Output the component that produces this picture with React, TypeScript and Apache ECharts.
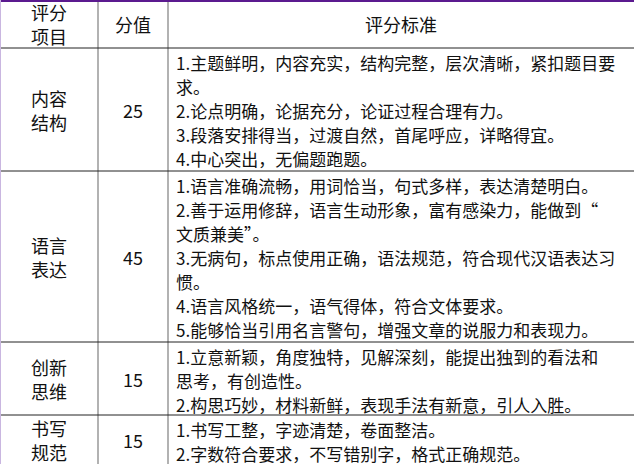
import * as echarts from 'echarts';
import React, { useEffect, useRef } from 'react';

// 表头
const headers = ['评分\n项目', '分值', '评分标准'];
// 各行：项目、分值、标准（已按显示折行）
const items = ['内容\n结构', '语言\n表达', '创新\n思维', '书写\n规范'];
const scores = ['25', '45', '15', '15'];
const criteria: string[][] = [
  [
    '1.主题鲜明，内容充实，结构完整，层次清晰，紧扣题目要',
    '求。',
    '2.论点明确，论据充分，论证过程合理有力。',
    '3.段落安排得当，过渡自然，首尾呼应，详略得宜。',
    '4.中心突出，无偏题跑题。',
  ],
  [
    '1.语言准确流畅，用词恰当，句式多样，表达清楚明白。',
    '2.善于运用修辞，语言生动形象，富有感染力，能做到“',
    '文质兼美”。',
    '3.无病句，标点使用正确，语法规范，符合现代汉语表达习',
    '惯。',
    '4.语言风格统一，语气得体，符合文体要求。',
    '5.能够恰当引用名言警句，增强文章的说服力和表现力。',
  ],
  [
    '1.立意新颖，角度独特，见解深刻，能提出独到的看法和',
    '思考，有创造性。',
    '2.构思巧妙，材料新鲜，表现手法有新意，引人入胜。',
  ],
  ['1.书写工整，字迹清楚，卷面整洁。', '2.字数符合要求，不写错别字，格式正确规范。'],
];

const colX = [0, 98, 168, 634];
const rowY = [0, 48, 171, 342, 415, 464];
const FONT = '"Noto Sans CJK SC", "DejaVu Sans", sans-serif';

const App: React.FC = () => {
  const ref = useRef<HTMLDivElement>(null);

  useEffect(() => {
    if (!ref.current) return;
    const chart = echarts.init(ref.current, undefined, { renderer: 'svg' });
    const els: any[] = [];

    // 竖线
    [98, 168].forEach((x) =>
      els.push({ type: 'line', shape: { x1: x, y1: 0, x2: x, y2: 464 }, style: { stroke: '#999', lineWidth: 1.5 } })
    );
    // 横线
    rowY.slice(1, 5).forEach((y) =>
      els.push({ type: 'line', shape: { x1: 0, y1: y, x2: 634, y2: y }, style: { stroke: '#222', lineWidth: 1 } })
    );
    els.push({ type: 'line', shape: { x1: 0, y1: 1, x2: 634, y2: 1 }, style: { stroke: '#5b1a8f', lineWidth: 2 } });
    els.push({ type: 'line', shape: { x1: 0.5, y1: 0, x2: 0.5, y2: 464 }, style: { stroke: '#c9b6e0', lineWidth: 1 } });

    const center = (text: string, c: number, r: number) => ({
      type: 'text',
      x: (colX[c] + colX[c + 1]) / 2,
      y: (rowY[r] + rowY[r + 1]) / 2,
      style: { text, fontSize: 18, fontFamily: FONT, fill: '#111', align: 'center', verticalAlign: 'middle', lineHeight: 24 },
    });

    headers.forEach((h, i) => els.push(center(h, i, 0)));
    items.forEach((t, i) => {
      els.push(center(t, 0, i + 1));
      els.push(center(scores[i], 1, i + 1));
      criteria[i].forEach((line, j) =>
        els.push({
          type: 'text',
          x: 176,
          y: rowY[i + 1] + 14 + j * 24,
          style: { text: line, fontSize: 17, fontFamily: FONT, fill: '#111', verticalAlign: 'middle' },
        })
      );
    });

    chart.setOption({ animation: false, graphic: { elements: els } });
    return () => chart.dispose();
  }, []);

  return (
    <div
      ref={ref}
      style={{ position: 'fixed', left: 0, top: 0, width: 634, height: 464, background: '#fff' }}
    />
  );
};

export default App;
